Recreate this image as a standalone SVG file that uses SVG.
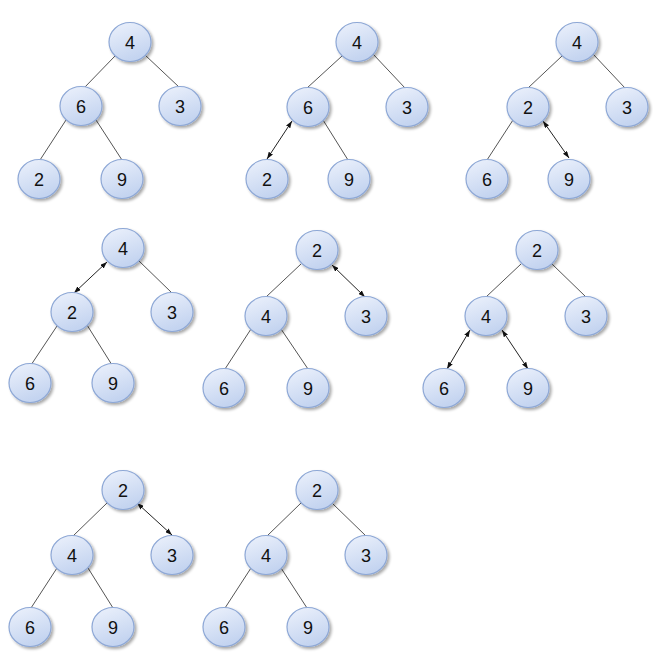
<svg xmlns="http://www.w3.org/2000/svg" width="653" height="668" viewBox="0 0 653 668">
<defs>
<linearGradient id="nodeFill" x1="0" y1="0" x2="0.4" y2="1">
<stop offset="0" stop-color="#edf2fc"/>
<stop offset="1" stop-color="#c4d4f0"/>
</linearGradient>
<filter id="shadow" x="-30%" y="-30%" width="170%" height="170%">
<feGaussianBlur in="SourceAlpha" stdDeviation="1.5"/>
<feOffset dx="1.5" dy="2" result="b"/>
<feComponentTransfer><feFuncA type="linear" slope="0.35"/></feComponentTransfer>
<feMerge><feMergeNode/><feMergeNode in="SourceGraphic"/></feMerge>
</filter>
<marker id="ah" viewBox="0 0 7 5" refX="7" refY="2.5" markerWidth="7" markerHeight="5" markerUnits="userSpaceOnUse" orient="auto-start-reverse">
<path d="M0,0 L7,2.5 L0,5 z" fill="#111"/>
</marker>
</defs>
<style>
.node ellipse{fill:url(#nodeFill);stroke:#8ea8d6;stroke-width:1.2;filter:url(#shadow)}
.node text{font-family:"Liberation Sans",Arial,sans-serif;font-size:18px;fill:#111;text-anchor:middle}
.edge{stroke:#555;stroke-width:1;fill:none}
.arrow{stroke:#222;stroke-width:1;fill:none;marker-start:url(#ah);marker-end:url(#ah)}
</style>
<rect width="653" height="668" fill="#fff"/>
<g id="connectors">
<!-- T1 -->
<line class="edge" x1="115" y1="56" x2="84" y2="88"/>
<line class="edge" x1="145" y1="55" x2="179" y2="87"/>
<line class="edge" x1="66" y1="120" x2="40" y2="160"/>
<line class="edge" x1="96" y1="120" x2="122" y2="160"/>
<!-- T2 -->
<line class="edge" x1="342" y1="56" x2="307" y2="88"/>
<line class="edge" x1="373" y1="54" x2="405" y2="88"/>
<line class="arrow" x1="292" y1="121" x2="267" y2="159"/>
<line class="edge" x1="323" y1="120" x2="348" y2="160"/>
<!-- T3 -->
<line class="edge" x1="562" y1="56" x2="528" y2="88"/>
<line class="edge" x1="593" y1="54" x2="625" y2="88"/>
<line class="edge" x1="513" y1="120" x2="487" y2="160"/>
<line class="arrow" x1="543" y1="121" x2="569" y2="158"/>
<!-- T4 -->
<line class="arrow" x1="107" y1="262" x2="74" y2="293"/>
<line class="edge" x1="138" y1="260" x2="172" y2="293"/>
<line class="edge" x1="57" y1="326" x2="31" y2="365"/>
<line class="edge" x1="87" y1="325" x2="112" y2="365"/>
<!-- T5 -->
<line class="edge" x1="301" y1="264" x2="266" y2="297"/>
<line class="arrow" x1="332" y1="265" x2="365" y2="297"/>
<line class="edge" x1="251" y1="329" x2="225" y2="369"/>
<line class="edge" x1="281" y1="329" x2="308" y2="369"/>
<!-- T6 -->
<line class="edge" x1="521" y1="264" x2="486" y2="297"/>
<line class="edge" x1="552" y1="264" x2="586" y2="297"/>
<line class="arrow" x1="470" y1="330" x2="447" y2="369"/>
<line class="arrow" x1="502" y1="330" x2="528" y2="369"/>
<!-- T7 -->
<line class="edge" x1="107" y1="503" x2="73" y2="536"/>
<line class="arrow" x1="137" y1="503" x2="172" y2="535"/>
<line class="edge" x1="57" y1="568" x2="31" y2="608"/>
<line class="edge" x1="88" y1="568" x2="113" y2="608"/>
<!-- T8 -->
<line class="edge" x1="301" y1="503" x2="267" y2="536"/>
<line class="edge" x1="332" y1="503" x2="366" y2="536"/>
<line class="edge" x1="251" y1="568" x2="225" y2="608"/>
<line class="edge" x1="281" y1="568" x2="307" y2="608"/>
</g>
<!-- Tree 1 -->
<g id="t1-root" class="node"><ellipse cx="130" cy="42" rx="21" ry="19.5"/><text x="130" y="48.5">4</text></g>
<g id="t1-l" class="node"><ellipse cx="81" cy="106" rx="21" ry="19.5"/><text x="81" y="112.5">6</text></g>
<g id="t1-r" class="node"><ellipse cx="180" cy="106" rx="21" ry="19.5"/><text x="180" y="112.5">3</text></g>
<g id="t1-ll" class="node"><ellipse cx="39" cy="179" rx="21" ry="19.5"/><text x="39" y="185.5">2</text></g>
<g id="t1-lr" class="node"><ellipse cx="122" cy="179" rx="21" ry="19.5"/><text x="122" y="185.5">9</text></g>
<!-- Tree 2 -->
<g id="t2-root" class="node"><ellipse cx="357" cy="42" rx="21" ry="19.5"/><text x="357" y="48.5">4</text></g>
<g id="t2-l" class="node"><ellipse cx="308" cy="107" rx="21" ry="19.5"/><text x="308" y="113.5">6</text></g>
<g id="t2-r" class="node"><ellipse cx="407" cy="107" rx="21" ry="19.5"/><text x="407" y="113.5">3</text></g>
<g id="t2-ll" class="node"><ellipse cx="267" cy="179" rx="21" ry="19.5"/><text x="267" y="185.5">2</text></g>
<g id="t2-lr" class="node"><ellipse cx="349" cy="179" rx="21" ry="19.5"/><text x="349" y="185.5">9</text></g>
<!-- Tree 3 -->
<g id="t3-root" class="node"><ellipse cx="577" cy="42" rx="21" ry="19.5"/><text x="577" y="48.5">4</text></g>
<g id="t3-l" class="node"><ellipse cx="528" cy="107" rx="21" ry="19.5"/><text x="528" y="113.5">2</text></g>
<g id="t3-r" class="node"><ellipse cx="627" cy="107" rx="21" ry="19.5"/><text x="627" y="113.5">3</text></g>
<g id="t3-ll" class="node"><ellipse cx="487" cy="179" rx="21" ry="19.5"/><text x="487" y="185.5">6</text></g>
<g id="t3-lr" class="node"><ellipse cx="569" cy="179" rx="21" ry="19.5"/><text x="569" y="185.5">9</text></g>
<!-- Tree 4 -->
<g id="t4-root" class="node"><ellipse cx="123" cy="248" rx="21" ry="19.5"/><text x="123" y="254.5">4</text></g>
<g id="t4-l" class="node"><ellipse cx="72" cy="312" rx="21" ry="19.5"/><text x="72" y="318.5">2</text></g>
<g id="t4-r" class="node"><ellipse cx="172" cy="312" rx="21" ry="19.5"/><text x="172" y="318.5">3</text></g>
<g id="t4-ll" class="node"><ellipse cx="30" cy="383" rx="21" ry="19.5"/><text x="30" y="389.5">6</text></g>
<g id="t4-lr" class="node"><ellipse cx="113" cy="383" rx="21" ry="19.5"/><text x="113" y="389.5">9</text></g>
<!-- Tree 5 -->
<g id="t5-root" class="node"><ellipse cx="317" cy="250" rx="21" ry="19.5"/><text x="317" y="256.5">2</text></g>
<g id="t5-l" class="node"><ellipse cx="266" cy="316" rx="21" ry="19.5"/><text x="266" y="322.5">4</text></g>
<g id="t5-r" class="node"><ellipse cx="366" cy="316" rx="21" ry="19.5"/><text x="366" y="322.5">3</text></g>
<g id="t5-ll" class="node"><ellipse cx="224" cy="388" rx="21" ry="19.5"/><text x="224" y="394.5">6</text></g>
<g id="t5-lr" class="node"><ellipse cx="308" cy="388" rx="21" ry="19.5"/><text x="308" y="394.5">9</text></g>
<!-- Tree 6 -->
<g id="t6-root" class="node"><ellipse cx="537" cy="250" rx="21" ry="19.5"/><text x="537" y="256.5">2</text></g>
<g id="t6-l" class="node"><ellipse cx="486" cy="316" rx="21" ry="19.5"/><text x="486" y="322.5">4</text></g>
<g id="t6-r" class="node"><ellipse cx="586" cy="316" rx="21" ry="19.5"/><text x="586" y="322.5">3</text></g>
<g id="t6-ll" class="node"><ellipse cx="444" cy="388" rx="21" ry="19.5"/><text x="444" y="394.5">6</text></g>
<g id="t6-lr" class="node"><ellipse cx="528" cy="388" rx="21" ry="19.5"/><text x="528" y="394.5">9</text></g>
<!-- Tree 7 -->
<g id="t7-root" class="node"><ellipse cx="123" cy="490" rx="21" ry="19.5"/><text x="123" y="496.5">2</text></g>
<g id="t7-l" class="node"><ellipse cx="72" cy="555" rx="21" ry="19.5"/><text x="72" y="561.5">4</text></g>
<g id="t7-r" class="node"><ellipse cx="172" cy="555" rx="21" ry="19.5"/><text x="172" y="561.5">3</text></g>
<g id="t7-ll" class="node"><ellipse cx="30" cy="627" rx="21" ry="19.5"/><text x="30" y="633.5">6</text></g>
<g id="t7-lr" class="node"><ellipse cx="113" cy="627" rx="21" ry="19.5"/><text x="113" y="633.5">9</text></g>
<!-- Tree 8 -->
<g id="t8-root" class="node"><ellipse cx="317" cy="490" rx="21" ry="19.5"/><text x="317" y="496.5">2</text></g>
<g id="t8-l" class="node"><ellipse cx="266" cy="555" rx="21" ry="19.5"/><text x="266" y="561.5">4</text></g>
<g id="t8-r" class="node"><ellipse cx="366" cy="555" rx="21" ry="19.5"/><text x="366" y="561.5">3</text></g>
<g id="t8-ll" class="node"><ellipse cx="224" cy="627" rx="21" ry="19.5"/><text x="224" y="633.5">6</text></g>
<g id="t8-lr" class="node"><ellipse cx="308" cy="627" rx="21" ry="19.5"/><text x="308" y="633.5">9</text></g>
</svg>
